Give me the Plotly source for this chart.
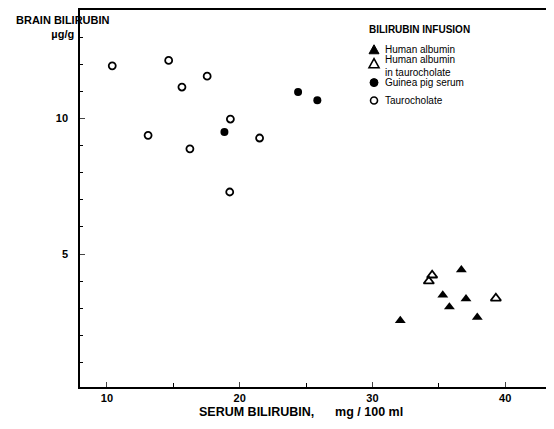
import plotly.graph_objects as go

# Data
human_alb_x = [36.7, 35.3, 37.05, 35.8, 32.1, 37.9]
human_alb_y = [4.42, 3.49, 3.35, 3.05, 2.55, 2.67]

human_alb_tauro_x = [34.5, 34.25, 39.3]
human_alb_tauro_y = [4.22, 4.0, 3.37]

guinea_x = [18.85, 24.4, 25.85]
guinea_y = [9.5, 10.98, 10.67]

tauro_x = [10.4, 14.65, 15.65, 17.55, 13.1, 16.25, 19.3, 21.5, 19.25]
tauro_y = [11.94, 12.14, 11.16, 11.56, 9.38, 8.88, 9.98, 9.28, 7.29]

x_ticks = [10, 20, 30, 40]
y_ticks = [5, 10]

legend_names = ["Human albumin", "Human albumin in taurocholate", "Guinea pig serum", "Taurocholate"]
# legend label lines as printed in the reference
legend_lines = ["Human albumin", "Human albumin", "in taurocholate", "Guinea pig serum", "Taurocholate"]

FONT = "Liberation Sans"

fig = go.Figure()
fig.add_trace(go.Scatter(x=human_alb_x, y=human_alb_y, mode="markers", name=legend_names[0],
                         marker=dict(symbol="triangle-up", size=9.5, color="black")))
fig.add_trace(go.Scatter(x=human_alb_tauro_x, y=human_alb_tauro_y, mode="markers",
                         name=legend_names[1],
                         marker=dict(symbol="triangle-up-open", size=9, color="black",
                                     line=dict(width=1.8, color="black"))))
fig.add_trace(go.Scatter(x=guinea_x, y=guinea_y, mode="markers", name=legend_names[2],
                         marker=dict(symbol="circle", size=8, color="black")))
fig.add_trace(go.Scatter(x=tauro_x, y=tauro_y, mode="markers", name=legend_names[3],
                         marker=dict(symbol="circle-open", size=7, color="black",
                                     line=dict(width=1.8, color="black"))))

# Hand-made legend (keys drawn as pixel-sized shapes anchored in paper coords)
key_x = 0.6203
text_x = 0.6414
key_rows = [0.8945, 0.8575, 0.8074, 0.7599]
text_rows = [0.8945, 0.8681, 0.8338, 0.8074, 0.7599]

shapes = []
tri = "M -5,-4 L 5,-4 L 0,5 Z"
shapes.append(dict(type="path", xref="paper", yref="paper", xsizemode="pixel", ysizemode="pixel",
                   xanchor=key_x, yanchor=key_rows[0], path=tri,
                   fillcolor="black", line=dict(color="black", width=1)))
shapes.append(dict(type="path", xref="paper", yref="paper", xsizemode="pixel", ysizemode="pixel",
                   xanchor=key_x, yanchor=key_rows[1], path=tri,
                   fillcolor="white", line=dict(color="black", width=1.6)))
shapes.append(dict(type="circle", xref="paper", yref="paper", xsizemode="pixel", ysizemode="pixel",
                   xanchor=key_x, yanchor=key_rows[2], x0=-4, x1=4, y0=-4, y1=4,
                   fillcolor="black", line=dict(color="black", width=1)))
shapes.append(dict(type="circle", xref="paper", yref="paper", xsizemode="pixel", ysizemode="pixel",
                   xanchor=key_x, yanchor=key_rows[3], x0=-3.5, x1=3.5, y0=-3.5, y1=3.5,
                   fillcolor="white", line=dict(color="black", width=1.6)))

annotations = [
    dict(text="BRAIN BILIRUBIN<br>µg/g", xref="paper", yref="paper", x=-0.036, y=0.995,
         xanchor="center", yanchor="top", showarrow=False, align="center",
         font=dict(size=11, family=FONT, weight="bold")),
    dict(text="BILIRUBIN INFUSION", xref="paper", yref="paper", x=0.606, y=0.968,
         xanchor="left", yanchor="top", showarrow=False,
         font=dict(size=10, family=FONT, weight="bold")),
    dict(text="SERUM BILIRUBIN," + "\u00a0" * 6 + "mg / 100 ml", xref="paper", yref="paper",
         x=0.466, y=-0.066, xanchor="center", yanchor="middle", showarrow=False,
         font=dict(size=12.5, family=FONT, weight="bold")),
]
for line, ty in zip(legend_lines, text_rows):
    annotations.append(dict(text=line, xref="paper", yref="paper", x=text_x, y=ty,
                            xanchor="left", yanchor="middle", showarrow=False, align="left",
                            borderpad=0,
                            font=dict(size=10, family=FONT, color="black")))

# The page body has an 8px margin, so the figure is sized 546x421
fig.update_layout(
    width=546, height=421,
    margin=dict(l=72, r=0, t=0, b=42),
    paper_bgcolor="white", plot_bgcolor="white",
    font=dict(family=FONT, color="black", size=11),
    showlegend=False,
    xaxis=dict(range=[7.97, 43.68], tickvals=x_ticks, ticks="inside", ticklen=5,
               tickwidth=1.2, showline=True, linecolor="black", linewidth=1.5,
               mirror=True, showgrid=False, zeroline=False,
               tickfont=dict(size=11, family=FONT, weight="bold"),
               minor=dict(dtick=5, ticks="inside", ticklen=4, tickcolor="black", showgrid=False)),
    yaxis=dict(range=[0.1, 14.0], tickvals=y_ticks, ticks="inside", ticklen=5,
               tickwidth=1.2, showline=True, linecolor="black", linewidth=1.5,
               showgrid=False, zeroline=False, ticklabelstandoff=8,
               tickfont=dict(size=11, family=FONT, weight="bold"),
               minor=dict(dtick=1, ticks="inside", ticklen=3, tickcolor="black", showgrid=False)),
    shapes=shapes,
    annotations=annotations,
)

fig.write_html("out.html")
